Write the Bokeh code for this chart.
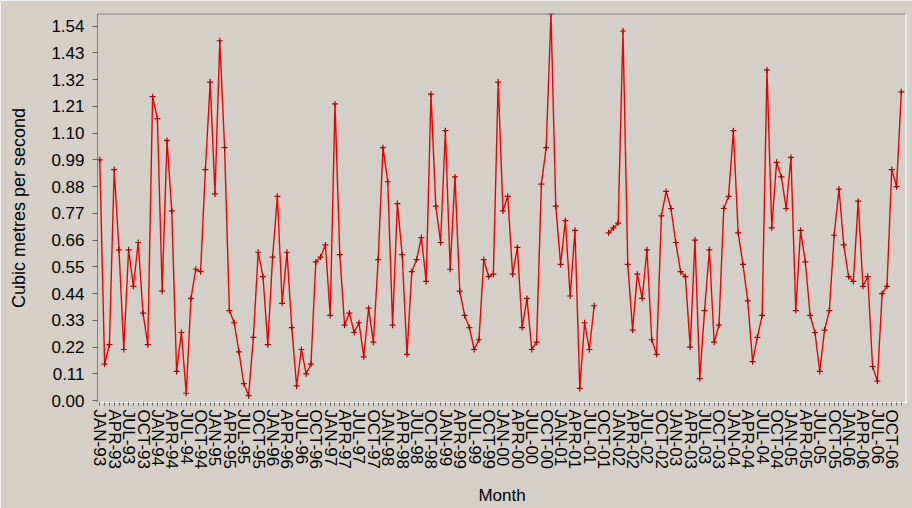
import math
from bokeh.plotting import figure
from bokeh.models import FixedTicker, Span, PrintfTickFormatter, Range1d, ColumnDataSource
from bokeh.embed import file_html
from bokeh.resources import INLINE

nan = float("nan")

month_names = ["JAN", "FEB", "MAR", "APR", "MAY", "JUN",
               "JUL", "AUG", "SEP", "OCT", "NOV", "DEC"]
first_year = 1993

# Monthly mean flow, JAN-93 .. DEC-06 (cubic metres per second); nan = missing
flow_1993 = [0.99, 0.15, 0.23, 0.95, 0.62, 0.21, 0.62, 0.47, 0.65, 0.36, 0.23, 1.25]
flow_1994 = [1.16, 0.45, 1.07, 0.78, 0.12, 0.28, 0.03, 0.42, 0.54, 0.53, 0.95, 1.31]
flow_1995 = [0.85, 1.48, 1.04, 0.37, 0.32, 0.20, 0.07, 0.02, 0.26, 0.61, 0.51, 0.23]
flow_1996 = [0.59, 0.84, 0.40, 0.61, 0.30, 0.06, 0.21, 0.11, 0.15, 0.57, 0.59, 0.64]
flow_1997 = [0.35, 1.22, 0.60, 0.31, 0.36, 0.28, 0.32, 0.18, 0.38, 0.24, 0.58, 1.04]
flow_1998 = [0.90, 0.31, 0.81, 0.60, 0.19, 0.53, 0.58, 0.67, 0.49, 1.26, 0.80, 0.65]
flow_1999 = [1.11, 0.54, 0.92, 0.45, 0.35, 0.30, 0.21, 0.25, 0.58, 0.51, 0.52, 1.31]
flow_2000 = [0.78, 0.84, 0.52, 0.63, 0.30, 0.42, 0.21, 0.24, 0.89, 1.04, 1.59, 0.80]
flow_2001 = [0.56, 0.74, 0.43, 0.70, 0.05, 0.32, 0.21, 0.39, nan, nan, 0.69, 0.71]
flow_2002 = [0.73, 1.52, 0.56, 0.29, 0.52, 0.42, 0.62, 0.25, 0.19, 0.76, 0.86, 0.79]
flow_2003 = [0.65, 0.53, 0.51, 0.22, 0.66, 0.09, 0.37, 0.62, 0.24, 0.31, 0.79, 0.84]
flow_2004 = [1.11, 0.69, 0.56, 0.41, 0.16, 0.26, 0.35, 1.36, 0.71, 0.98, 0.92, 0.79]
flow_2005 = [1.00, 0.37, 0.70, 0.57, 0.35, 0.28, 0.12, 0.29, 0.37, 0.68, 0.87, 0.64]
flow_2006 = [0.51, 0.49, 0.82, 0.47, 0.51, 0.14, 0.08, 0.44, 0.47, 0.95, 0.88, 1.27]

flow = (flow_1993 + flow_1994 + flow_1995 + flow_1996 + flow_1997 + flow_1998 +
        flow_1999 + flow_2000 + flow_2001 + flow_2002 + flow_2003 + flow_2004 +
        flow_2005 + flow_2006)

y_ticks = [0.00, 0.11, 0.22, 0.33, 0.44, 0.55, 0.66, 0.77, 0.88, 0.99,
           1.10, 1.21, 1.32, 1.43, 1.54]

month_index = list(range(len(flow)))
month_labels = [f"{month_names[i % 12]}-{str(first_year + i // 12)[2:]}" for i in month_index]
label_every = 3
major_ticks = month_index[::label_every]

bg = "#D4D0C8"

src = ColumnDataSource(data=dict(x=month_index, y=flow))

p = figure(width=912, height=508, output_backend="svg", toolbar_location=None,
           x_range=Range1d(-0.48, 168.07), y_range=Range1d(-0.008, 1.592),
           background_fill_color=bg, border_fill_color=bg,
           min_border_left=97, min_border_right=6, min_border_top=13, min_border_bottom=105)
p.outline_line_color = None
p.grid.visible = False

p.line("x", "y", source=src, line_color="#F00000", line_width=1.4)
p.scatter("x", "y", source=src, marker="cross", size=6, line_color="#B00000", line_width=1.2)

# y axis
ya = p.yaxis[0]
ya.ticker = FixedTicker(ticks=y_ticks)
ya.formatter = PrintfTickFormatter(format="%.2f")
ya.axis_label = "Cubic metres per second"
ya.axis_label_text_font = "Liberation Sans"
ya.axis_label_text_font_size = "18px"
ya.axis_label_text_font_style = "normal"
ya.axis_label_text_color = "#000000"
ya.axis_label_standoff = 19
ya.major_label_text_font = "Liberation Sans"
ya.major_label_text_font_size = "17px"
ya.major_label_text_color = "#000000"
ya.major_label_standoff = 8
ya.axis_line_color = "#808080"
ya.major_tick_line_color = "#606060"
ya.major_tick_out = 5
ya.major_tick_in = 0
ya.minor_tick_line_color = None

# x axis
xa = p.xaxis[0]
xa.ticker = FixedTicker(ticks=major_ticks, minor_ticks=month_index)
xa.major_label_overrides = {i: month_labels[i] for i in major_ticks}
xa.major_label_orientation = "vertical"
xa.major_label_text_font = "Liberation Sans"
xa.major_label_text_font_size = "17px"
xa.major_label_text_color = "#000000"
xa.major_label_standoff = 4
xa.axis_label = "Month"
xa.axis_label_text_font = "Liberation Sans"
xa.axis_label_text_font_size = "17px"
xa.axis_label_text_font_style = "normal"
xa.axis_label_text_color = "#000000"
xa.axis_label_standoff = 14
xa.axis_line_color = "#FFFFFF"
xa.major_tick_line_color = "#606060"
xa.minor_tick_line_color = "#606060"
xa.major_tick_out = 3
xa.major_tick_in = 0
xa.minor_tick_out = 3
xa.minor_tick_in = 0

# frame edges: top gray, right white
p.add_layout(Span(location=p.y_range.end, dimension="width", line_color="#808080", line_width=2))
p.add_layout(Span(location=p.x_range.end, dimension="height", line_color="#FFFFFF", line_width=2))

open("out.html", "w").write(file_html(p, INLINE))
